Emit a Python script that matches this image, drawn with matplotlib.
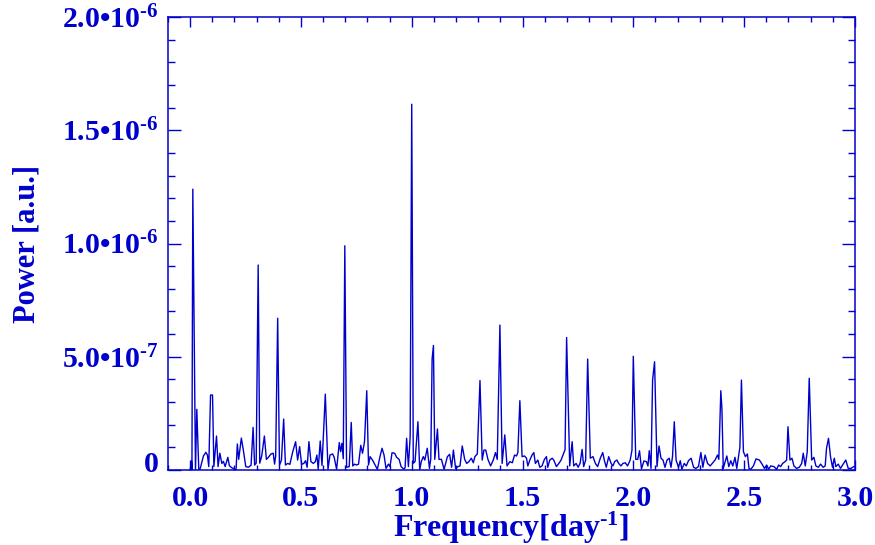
import matplotlib
matplotlib.use("Agg")
import matplotlib.pyplot as plt
import matplotlib.transforms as mtransforms
from matplotlib.ticker import MultipleLocator, FixedLocator, FixedFormatter

# colores y fuentes tipo IDL
BLUE = "#0000CC"
plt.rcParams["font.family"] = ["Liberation Serif", "DejaVu Serif"]
plt.rcParams["font.weight"] = "bold"
plt.rcParams["mathtext.fontset"] = "custom"
plt.rcParams["mathtext.rm"] = "Liberation Serif:bold"
plt.rcParams["mathtext.bf"] = "Liberation Serif:bold"
plt.rcParams["mathtext.it"] = "Liberation Serif:bold:italic"

# datos: frecuencia [1/dia] y potencia [1e-7 a.u.]
freq = [
    0.000, 0.006, 0.008, 0.012, 0.024, 0.030, 0.039, 0.045, 0.060, 0.071,
    0.078, 0.084, 0.092, 0.101, 0.107, 0.119, 0.126, 0.134, 0.143, 0.150,
    0.158, 0.170, 0.177, 0.188, 0.201, 0.207, 0.213, 0.219, 0.231, 0.240,
    0.251, 0.263, 0.275, 0.284, 0.291, 0.298, 0.307, 0.314, 0.323, 0.335,
    0.344, 0.353, 0.365, 0.375, 0.381, 0.386, 0.395, 0.403, 0.412, 0.422,
    0.430, 0.440, 0.450, 0.463, 0.476, 0.485, 0.494, 0.503, 0.513, 0.521,
    0.528, 0.536, 0.545, 0.556, 0.565, 0.572, 0.578, 0.587, 0.595, 0.610,
    0.622, 0.631, 0.643, 0.650, 0.661, 0.673, 0.679, 0.685, 0.691, 0.698,
    0.706, 0.718, 0.727, 0.734, 0.742, 0.751, 0.760, 0.770, 0.778, 0.787,
    0.797, 0.805, 0.812, 0.823, 0.833, 0.845, 0.856, 0.866, 0.875, 0.884,
    0.895, 0.902, 0.911, 0.923, 0.932, 0.943, 0.952, 0.964, 0.970, 0.977,
    0.985, 0.993, 1.000, 1.007, 1.015, 1.028, 1.036, 1.043, 1.052, 1.059,
    1.070, 1.080, 1.086, 1.092, 1.098, 1.104, 1.116, 1.123, 1.134, 1.146,
    1.161, 1.171, 1.180, 1.188, 1.198, 1.209, 1.218, 1.228, 1.239, 1.248,
    1.258, 1.269, 1.278, 1.285, 1.296, 1.308, 1.318, 1.326, 1.334, 1.344,
    1.356, 1.368, 1.378, 1.386, 1.398, 1.408, 1.420, 1.430, 1.443, 1.454,
    1.464, 1.473, 1.479, 1.488, 1.498, 1.509, 1.518, 1.524, 1.533, 1.543,
    1.551, 1.558, 1.569, 1.578, 1.588, 1.599, 1.608, 1.614, 1.623, 1.634,
    1.641, 1.653, 1.664, 1.674, 1.686, 1.692, 1.699, 1.713, 1.724, 1.731,
    1.742, 1.751, 1.760, 1.769, 1.776, 1.785, 1.794, 1.806, 1.818, 1.829,
    1.839, 1.851, 1.862, 1.869, 1.878, 1.889, 1.900, 1.908, 1.916, 1.926,
    1.934, 1.944, 1.953, 1.964, 1.974, 1.986, 1.994, 2.000, 2.011, 2.020,
    2.028, 2.037, 2.048, 2.059, 2.066, 2.072, 2.080, 2.087, 2.096, 2.107,
    2.116, 2.125, 2.134, 2.143, 2.152, 2.162, 2.170, 2.177, 2.185, 2.193,
    2.204, 2.212, 2.219, 2.230, 2.239, 2.249, 2.261, 2.272, 2.282, 2.294,
    2.305, 2.314, 2.324, 2.335, 2.347, 2.359, 2.369, 2.380, 2.386, 2.395,
    2.400, 2.406, 2.422, 2.431, 2.440, 2.449, 2.459, 2.467, 2.481, 2.488,
    2.497, 2.506, 2.515, 2.522, 2.530, 2.542, 2.554, 2.569, 2.581, 2.592,
    2.602, 2.611, 2.620, 2.635, 2.647, 2.656, 2.665, 2.674, 2.685, 2.692,
    2.698, 2.707, 2.716, 2.725, 2.737, 2.749, 2.760, 2.767, 2.776, 2.785,
    2.794, 2.805, 2.815, 2.824, 2.835, 2.845, 2.857, 2.866, 2.872, 2.881,
    2.890, 2.899, 2.907, 2.914, 2.925, 2.935, 2.947, 2.959, 2.970, 2.982,
    2.995,
]
power_e7 = [
    0.00, 0.40, 0.00, 12.40, 0.00, 2.68, 0.00, 0.05, 0.62, 0.78,
    0.66, 0.15, 3.31, 3.31, 0.15, 1.50, 0.15, 0.74, 0.29, 0.38,
    0.15, 0.56, 0.19, 0.10, 0.04, 0.00, 1.15, 0.47, 1.41, 0.88,
    0.15, 0.12, 0.22, 1.88, 0.22, 0.30, 9.05, 0.30, 0.62, 1.50,
    0.47, 0.56, 0.71, 0.74, 0.26, 0.62, 6.70, 0.20, 0.44, 2.25,
    0.22, 0.29, 0.25, 0.81, 1.25, 0.44, 1.03, 0.25, 0.29, 0.41,
    0.12, 1.25, 0.37, 0.29, 0.37, 0.66, 0.03, 1.28, 0.20, 3.35,
    0.03, 0.66, 0.71, 0.56, 0.03, 1.21, 0.81, 1.18, 0.50, 9.90,
    0.12, 0.15, 2.10, 0.18, 0.26, 0.22, 0.26, 1.09, 0.74, 1.26,
    3.50, 0.22, 0.59, 0.44, 0.25, 0.03, 0.56, 0.96, 0.66, 0.07,
    0.26, 0.15, 0.76, 0.74, 0.56, 0.47, 0.15, 0.04, 0.10, 1.40,
    0.15, 1.50, 16.15, 0.30, 0.37, 2.13, 0.00, 0.37, 0.59, 0.44,
    0.96, 0.07, 0.50, 4.90, 5.50, 0.47, 1.81, 0.47, 0.47, 0.03,
    0.59, 0.69, 0.12, 0.88, 0.07, 0.15, 0.18, 1.06, 0.47, 0.29,
    0.37, 0.52, 0.32, 0.59, 0.71, 3.95, 0.44, 0.88, 0.88, 0.47,
    0.18, 0.44, 0.77, 0.47, 6.40, 0.29, 1.55, 0.18, 0.37, 0.32,
    0.66, 0.62, 0.77, 3.06, 0.59, 0.62, 0.52, 0.18, 0.44, 0.66,
    0.77, 0.29, 0.44, 0.12, 0.18, 0.47, 0.59, 0.12, 0.44, 0.52,
    0.44, 0.15, 0.29, 0.44, 0.74, 0.90, 5.85, 0.18, 1.25, 0.18,
    0.29, 0.12, 0.30, 0.91, 0.15, 0.44, 4.90, 0.52, 0.59, 0.29,
    0.15, 0.52, 0.77, 0.44, 0.12, 0.59, 0.29, 0.18, 0.37, 0.44,
    0.29, 0.18, 0.29, 0.32, 0.18, 0.44, 0.88, 5.02, 0.47, 0.47,
    0.85, 0.05, 0.40, 0.37, 0.18, 0.85, 0.07, 3.97, 4.78, 0.15,
    1.06, 0.52, 0.44, 0.12, 0.44, 0.52, 0.12, 0.59, 2.13, 0.44,
    0.12, 0.41, 0.03, 0.29, 0.18, 0.41, 0.52, 0.12, 0.07, 0.15,
    0.77, 0.12, 0.66, 0.29, 0.18, 0.32, 0.44, 0.66, 0.47, 3.50,
    2.70, 0.07, 0.62, 0.15, 0.41, 0.18, 0.56, 0.07, 1.00, 3.97,
    0.81, 0.59, 0.71, 0.07, 0.03, 0.18, 0.49, 0.44, 0.26, 0.07,
    0.22, 0.03, 0.18, 0.15, 0.03, 0.22, 0.15, 0.29, 0.37, 0.44,
    1.91, 0.44, 0.52, 0.18, 0.07, 0.12, 0.29, 0.74, 0.18, 0.80,
    4.05, 0.44, 0.56, 0.18, 0.12, 0.26, 0.12, 0.18, 0.96, 1.40,
    0.59, 0.12, 0.52, 0.15, 0.26, 0.07, 0.26, 0.44, 0.07, 0.07,
    0.15,
]
power = [p * 1e-7 for p in power_e7]

ytick_vals = [0.0, 5.0e-7, 1.0e-6, 1.5e-6, 2.0e-6]
ytick_labels = ["0", r"5.0•10$^{\text{-7}}$", r"1.0•10$^{\text{-6}}$",
                r"1.5•10$^{\text{-6}}$", r"2.0•10$^{\text{-6}}$"]

fig = plt.figure(figsize=(8.75, 5.45), dpi=100)
ax = fig.add_axes([0.192, 0.1376, 0.785, 0.8312])

ax.plot(freq, power, color=BLUE, lw=1.0)

ax.set_xlim(-0.1, 3.0)
ax.set_ylim(0, 2.0e-6)

ax.xaxis.set_major_locator(MultipleLocator(0.5))
ax.xaxis.set_minor_locator(MultipleLocator(0.1))
ax.xaxis.set_major_formatter(matplotlib.ticker.FormatStrFormatter("%.1f"))
ax.yaxis.set_major_locator(FixedLocator(ytick_vals))
ax.yaxis.set_major_formatter(FixedFormatter(ytick_labels))
ax.yaxis.set_minor_locator(MultipleLocator(1.0e-7))

for s in ax.spines.values():
    s.set_color(BLUE)
    s.set_linewidth(1.1)

ax.tick_params(axis="both", which="both", direction="in", colors=BLUE,
               top=True, right=True, width=1.0, labelsize=21.5)
ax.tick_params(axis="x", which="major", length=7.0, pad=10.5)
ax.tick_params(axis="x", which="minor", length=3.6)
ax.tick_params(axis="y", which="major", length=9.5, pad=6.5)
ax.tick_params(axis="y", which="minor", length=4.8)

for lab in ax.get_xticklabels() + ax.get_yticklabels():
    lab.set_fontweight("bold")

# el "0" del eje y va un poco por encima del eje, como en IDL
zero_lab = ax.get_yticklabels()[0]
zero_lab.set_transform(zero_lab.get_transform() +
                       mtransforms.ScaledTranslation(0, 6 / 72, fig.dpi_scale_trans))

ax.set_xlabel(r"Frequency[day$^{\text{-1}}$]", color=BLUE, fontsize=23,
              fontweight="bold")
ax.set_ylabel("Power [a.u.]", color=BLUE, fontsize=22, fontweight="bold")
ax.xaxis.set_label_coords(0.5, -0.088)
ax.yaxis.set_label_coords(-0.205, 0.5)
ax.yaxis.label.set_va("center")

fig.savefig("out.png", dpi=100)
